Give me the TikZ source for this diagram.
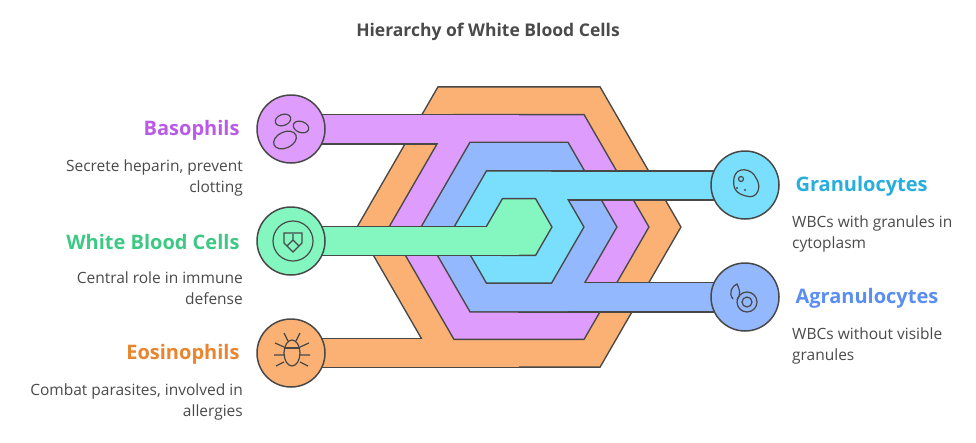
\documentclass[tikz,border=0pt]{standalone}
\usepackage{fontspec}
\setmainfont{Open Sans}
\definecolor{ln}{HTML}{484848}
\definecolor{tx}{HTML}{4A4A4A}
\definecolor{orF}{HTML}{FBB173}
\definecolor{puF}{HTML}{DE9CFC}
\definecolor{blF}{HTML}{94B8FD}
\definecolor{cyF}{HTML}{7ADFFD}
\definecolor{grF}{HTML}{84F7C0}
\definecolor{orT}{HTML}{E8852E}
\definecolor{puT}{HTML}{B95BE6}
\definecolor{blT}{HTML}{5A8EF2}
\definecolor{cyT}{HTML}{27AEDC}
\definecolor{grT}{HTML}{3DC985}
\newcommand{\hexp}[1]{({519+#1},227) -- ({519+#1/2},{227-0.866*#1}) -- ({519-#1/2},{227-0.866*#1}) -- ({519-#1},227) -- ({519-#1/2},{227+0.866*#1}) -- ({519+#1/2},{227+0.866*#1}) -- cycle}
\newcommand{\band}[5]{% color, Rout, Rin, rect corners
 \path[draw=ln,line width=3pt,line join=miter,fill=#1,even odd rule] \hexp{#2} \hexp{#3};
 \path[draw=ln,line width=3pt,fill=#1] #4 rectangle #5;
 \path[fill=#1,even odd rule] \hexp{#2} \hexp{#3};
 \path[fill=#1] #4 rectangle #5;}
\tikzset{
 ttl/.style={font=\bfseries\fontsize{20}{24}\selectfont},
 dsc/.style={font=\fontsize{15.5}{21}\selectfont,text=tx,align=#1,inner sep=0pt},
 cir/.style={circle,minimum size=68pt,inner sep=0pt,draw=ln,line width=1.5pt,fill=#1},
 ic/.style={draw=ln,line width=1.2pt}
}
\begin{document}
\begin{tikzpicture}[x=1pt,y=-1pt]
\useasboundingbox (0,0) rectangle (976,442);
\node[font=\bfseries\fontsize{17.5}{21}\selectfont,text=tx] (title) at (488,32) {Hierarchy of White Blood Cells};
% bands
\band{orF}{161}{129}{(292,339)}{(519,366.5)}
\band{puF}{129}{97}{(292,115)}{(519,143)}
\band{blF}{97}{64}{(519,283)}{(745,311)}
\band{cyF}{64}{32}{(519,171.5)}{(745,199.3)}
% green
\path[draw=ln,line width=3pt,fill=grF] \hexp{32};
\path[draw=ln,line width=3pt,fill=grF] (292,227) rectangle (519,254.7);
\path[fill=grF] \hexp{32};
\path[fill=grF] (292,227) rectangle (519,254.7);
% circles
\node[cir=puF] (baso) at (291,129) {};
\node[cir=grF] (wbc) at (291,241) {};
\node[cir=orF] (eos) at (291,353) {};
\node[cir=cyF] (gran) at (745,185) {};
\node[cir=blF] (agran) at (745,297) {};
% icons
\draw[ic,rotate around={20:(283,120)}] (283,120) ellipse (8 and 5.5);
\draw[ic,rotate around={-20:(301,127)}] (301,127) ellipse (8 and 5.5);
\draw[ic,rotate around={25:(285,140)}] (285,140) ellipse (12 and 8);
\draw[ic] (293,241) circle (20);
\draw[ic] (284,233) -- (302,233) -- (302,243) -- (293,252) -- (284,243) -- cycle;
\draw[ic] (293,240) -- (287,246) (293,240) -- (299,246) (293,240) -- (293,234);
\draw[ic] (292,353) ellipse (8 and 13);
\draw[ic] (284,348) -- (300,348);
\draw[ic] (284,347) -- (275,343) (284,355) -- (274,355) (284,362) -- (276,366)
 (300,347) -- (309,343) (300,355) -- (310,355) (300,362) -- (308,366)
 (288,341) -- (284,333) (296,341) -- (300,333);
\draw[ic] (734,178) .. controls (736,166) and (752,168) .. (756,178) .. controls (762,186) and (758,200) .. (746,196) .. controls (738,194) and (732,190) .. cycle;
\draw[ic] (741,179) circle (2.5);
\fill[ln] (737,188) circle (1.2) (745,190) circle (1.2);
\draw[ic] (733,299) .. controls (728,293) and (732,286) .. (737,284) .. controls (740,290) and (741,295) .. (737,300);
\draw[ic] (747,302) circle (10);
\draw[ic] (747,302) circle (5);
% texts
\node[ttl,text=puT,anchor=east] (t1) at (243,130) {Basophils};
\node[dsc=right,anchor=north east] (d1) at (243,160) {Secrete heparin, prevent\\clotting};
\node[ttl,text=grT,anchor=east] (t2) at (243,242) {White Blood Cells};
\node[dsc=right,anchor=north east] (d2) at (243,272) {Central role in immune\\defense};
\node[ttl,text=orT,anchor=east] (t3) at (243,354) {Eosinophils};
\node[dsc=right,anchor=north east] (d3) at (243,384) {Combat parasites, involved in\\allergies};
\node[ttl,text=cyT,anchor=west] (t4) at (792,186) {Granulocytes};
\node[dsc=left,anchor=north west] (d4) at (792,216) {WBCs with granules in\\cytoplasm};
\node[ttl,text=blT,anchor=west] (t5) at (792,298) {Agranulocytes};
\node[dsc=left,anchor=north west] (d5) at (792,328) {WBCs without visible\\granules};
\end{tikzpicture}
\end{document}
